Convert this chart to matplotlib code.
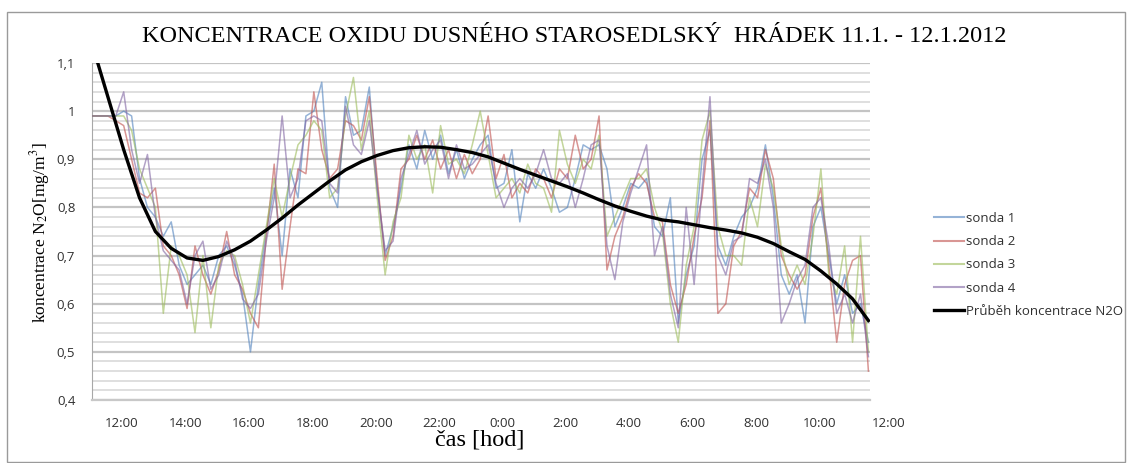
import numpy as np
import matplotlib.pyplot as plt
from matplotlib.patches import Rectangle

# time in hours since midnight 11.1. (values > 24 are 12.1.), one sample every 15 min
t_start = 11.05
t_step = 0.25

sonda1 = [0.99, 0.99, 0.99, 0.99, 1.00, 0.99, 0.86, 0.80, 0.78, 0.74,
          0.77, 0.68, 0.64, 0.66, 0.68, 0.64, 0.70, 0.72, 0.68, 0.62,
          0.50, 0.64, 0.75, 0.84, 0.70, 0.88, 0.82, 0.99, 1.00, 1.06,
          0.84, 0.80, 1.03, 0.95, 0.96, 1.05, 0.84, 0.70, 0.76, 0.84,
          0.93, 0.88, 0.96, 0.90, 0.95, 0.87, 0.92, 0.86, 0.90, 0.93,
          0.95, 0.84, 0.85, 0.92, 0.77, 0.87, 0.84, 0.88, 0.84, 0.79,
          0.80, 0.86, 0.93, 0.92, 0.93, 0.88, 0.76, 0.80, 0.85, 0.84,
          0.86, 0.76, 0.74, 0.82, 0.56, 0.66, 0.72, 0.90, 0.96, 0.72,
          0.68, 0.74, 0.78, 0.80, 0.84, 0.93, 0.82, 0.66, 0.62, 0.66,
          0.56, 0.76, 0.80, 0.70, 0.60, 0.66, 0.58, 0.60, 0.52]
sonda2 = [0.99, 0.99, 0.99, 0.98, 0.97, 0.90, 0.83, 0.82, 0.84, 0.72,
          0.70, 0.66, 0.59, 0.72, 0.66, 0.62, 0.67, 0.75, 0.66, 0.63,
          0.58, 0.55, 0.74, 0.89, 0.63, 0.76, 0.88, 0.87, 1.04, 0.92,
          0.86, 0.88, 0.98, 0.97, 0.94, 1.03, 0.86, 0.69, 0.74, 0.88,
          0.90, 0.95, 0.90, 0.94, 0.88, 0.92, 0.86, 0.91, 0.87, 0.90,
          0.99, 0.86, 0.91, 0.82, 0.85, 0.83, 0.88, 0.86, 0.82, 0.88,
          0.86, 0.95, 0.88, 0.90, 0.99, 0.67, 0.74, 0.78, 0.84, 0.87,
          0.85, 0.78, 0.77, 0.64, 0.58, 0.64, 0.74, 0.82, 0.98, 0.58,
          0.60, 0.72, 0.75, 0.84, 0.82, 0.92, 0.86, 0.70, 0.66, 0.63,
          0.66, 0.78, 0.84, 0.68, 0.52, 0.64, 0.69, 0.70, 0.46]
sonda3 = [0.99, 0.99, 0.99, 0.99, 0.99, 0.96, 0.88, 0.84, 0.80, 0.58,
          0.72, 0.70, 0.66, 0.54, 0.70, 0.55, 0.68, 0.71, 0.70, 0.64,
          0.56, 0.66, 0.76, 0.86, 0.78, 0.86, 0.93, 0.95, 0.98, 0.96,
          0.82, 0.84, 0.99, 1.07, 0.92, 1.00, 0.82, 0.66, 0.77, 0.82,
          0.95, 0.90, 0.93, 0.83, 0.97, 0.89, 0.90, 0.87, 0.93, 1.00,
          0.91, 0.82, 0.84, 0.86, 0.83, 0.89, 0.85, 0.84, 0.79, 0.96,
          0.89, 0.85, 0.90, 0.88, 0.95, 0.74, 0.78, 0.82, 0.86, 0.86,
          0.88, 0.80, 0.75, 0.60, 0.52, 0.68, 0.76, 0.94, 1.00, 0.76,
          0.70, 0.70, 0.68, 0.82, 0.76, 0.89, 0.84, 0.72, 0.64, 0.68,
          0.64, 0.74, 0.88, 0.66, 0.62, 0.72, 0.52, 0.74, 0.50]
sonda4 = [0.99, 0.99, 0.99, 0.99, 1.04, 0.92, 0.85, 0.91, 0.78, 0.71,
          0.69, 0.67, 0.60, 0.70, 0.73, 0.63, 0.66, 0.73, 0.69, 0.61,
          0.59, 0.62, 0.73, 0.82, 0.99, 0.82, 0.86, 0.98, 0.99, 0.98,
          0.85, 0.83, 1.01, 0.93, 0.91, 0.98, 0.84, 0.71, 0.73, 0.86,
          0.91, 0.96, 0.89, 0.92, 0.94, 0.86, 0.93, 0.88, 0.89, 0.91,
          0.93, 0.85, 0.80, 0.84, 0.86, 0.84, 0.87, 0.92, 0.86, 0.85,
          0.87, 0.80, 0.86, 0.93, 0.94, 0.72, 0.65, 0.77, 0.83, 0.88,
          0.93, 0.70, 0.76, 0.62, 0.55, 0.80, 0.64, 0.84, 1.03, 0.70,
          0.66, 0.73, 0.74, 0.86, 0.85, 0.90, 0.80, 0.56, 0.60, 0.65,
          0.68, 0.80, 0.82, 0.72, 0.58, 0.62, 0.56, 0.62, 0.49]

# trend line (Průběh koncentrace N2O), every 30 min
trend_step = 0.5
trend = [1.14, 1.03, 0.92, 0.82, 0.75, 0.715, 0.695, 0.69, 0.698, 0.712,
         0.73, 0.753, 0.778, 0.805, 0.83, 0.855, 0.878, 0.895, 0.908, 0.918,
         0.924, 0.926, 0.925, 0.92, 0.914, 0.905, 0.892, 0.879, 0.867, 0.855,
         0.843, 0.83, 0.816, 0.803, 0.792, 0.782, 0.774, 0.77, 0.764, 0.758,
         0.753, 0.747, 0.738, 0.725, 0.708, 0.692, 0.668, 0.641, 0.61, 0.565]

series_names = ['sonda 1', 'sonda 2', 'sonda 3', 'sonda 4']
trend_name = 'Průběh koncentrace N2O'
x_ticks = [12, 14, 16, 18, 20, 22, 24, 26, 28, 30, 32, 34]
x_labels = ['12:00', '14:00', '16:00', '18:00', '20:00', '22:00', '0:00',
            '2:00', '4:00', '6:00', '8:00', '10:00']
y_ticks = [0.4, 0.5, 0.6, 0.7, 0.8, 0.9, 1.0, 1.1]
y_labels = ['0,4', '0,5', '0,6', '0,7', '0,8', '0,9', '1', '1,1']

colors = ['#4F81BD', '#C0504D', '#9BBB59', '#8064A2']

t = t_start + t_step * np.arange(len(sonda1))
t_trend = t_start + trend_step * np.arange(len(trend))

fig = plt.figure(figsize=(11.3, 4.63), dpi=100)
fig.patches.append(Rectangle((7 / 1130, 0.002), 1118 / 1130, 1 - 12 / 463 - 0.002,
                             transform=fig.transFigure, fill=False,
                             edgecolor='#9a9a9a', lw=1.0))
ax = fig.add_axes([92 / 1130, 1 - 400 / 463, 778 / 1130, 337 / 463])

for vals, name, c in zip([sonda1, sonda2, sonda3, sonda4], series_names, colors):
    ax.plot(t, vals, color=c, lw=1.1, alpha=0.6, label=name, zorder=3)
ax.plot(t_trend, trend, color='black', lw=2.4, label=trend_name, zorder=4)

ax.set_xlim(t_start, 35.6)
ax.set_ylim(0.4, 1.1)
ax.set_yticks(y_ticks)
ax.set_yticklabels(y_labels)
ax.set_yticks(np.arange(0.4, 1.1001, 0.02), minor=True)
ax.set_xticks(x_ticks)
ax.set_xticklabels(x_labels)
ax.text(36.2, -0.05, '12:00', transform=ax.get_xaxis_transform(),
        ha='center', va='top', fontsize=9.5, color='#303030', family='Open Sans')

ax.grid(axis='y', which='major', color='#c4c4c4', lw=1.6, zorder=0)
ax.grid(axis='y', which='minor', color='#dcdcdc', lw=1.3, zorder=0)
ax.set_axisbelow(True)
ax.tick_params(which='both', length=0)
ax.tick_params(axis='y', pad=12, labelsize=9.5, labelcolor='#303030')
ax.tick_params(axis='x', pad=12, labelsize=9.5, labelcolor='#303030')
for lab in ax.get_xticklabels() + ax.get_yticklabels():
    lab.set_family('Open Sans')
for side in ['top', 'right']:
    ax.spines[side].set_visible(False)
ax.spines['left'].set_color('#a8a8a8')
ax.spines['bottom'].set_color('#c8c8c8')
ax.spines['bottom'].set_linewidth(1.6)

fig.text(574 / 1130, 1 - 37 / 463,
         'KONCENTRACE OXIDU DUSNÉHO STAROSEDLSKÝ  HRÁDEK 11.1. - 12.1.2012',
         ha='center', va='center', fontsize=17.5, family='Liberation Serif')
fig.text(480 / 1130, 1 - 440 / 463, 'čas [hod]', ha='center', va='center',
         fontsize=17.5, family='Liberation Serif')
fig.text(40 / 1130, 1 - 233 / 463, r'koncentrace N$_2$O[mg/m$^3$]',
         ha='center', va='center', rotation=90, fontsize=12.5,
         family='Liberation Serif', math_fontfamily='stix')

leg = fig.legend(loc='upper left', bbox_to_anchor=(922 / 1130, 1 - 200 / 463),
                 frameon=False, fontsize=9.5, handlelength=2.3,
                 labelspacing=0.78, handletextpad=0.1,
                 prop={'family': 'Open Sans', 'size': 9.5})
for line in leg.get_lines()[:4]:
    line.set_linewidth(1.5)
for txt in leg.get_texts():
    txt.set_color('#303030')

fig.savefig('out.png', dpi=100)
